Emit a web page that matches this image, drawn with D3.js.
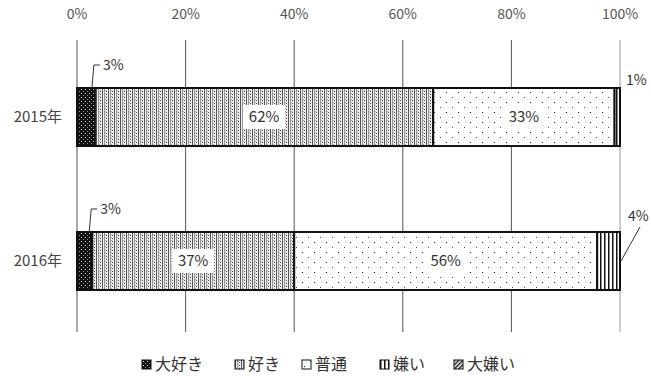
<!DOCTYPE html>
<html>
<head>
<meta charset="utf-8">
<script src="https://cdn.jsdelivr.net/npm/d3@7"></script>
<style>
  body { margin: 0; background: #fff; }
  text { font-family: "Noto Sans CJK JP", "Noto Sans", sans-serif; }
</style>
</head>
<body>
<div id="chart"></div>
<script>
// data
const years = ["2015年", "2016年"];
const seriesNames = ["大好き", "好き", "普通", "嫌い", "大嫌い"];
const v2015 = [3.3, 62.3, 33.4, 1.0, 0];
const v2016 = [2.8, 37.2, 55.8, 4.2, 0];
const ticks = [0, 20, 40, 60, 80, 100];

const width = 651, height = 376;
const margin = { left: 77, right: 31, top: 40, bottom: 44 };

const svg = d3.select("#chart")
  .append("svg")
    .attr("width", width)
    .attr("height", height);

/*    Patterns    */
const defs = svg.append("defs");

const pBig = defs.append("pattern").attr("id", "pBig")
  .attr("patternUnits", "userSpaceOnUse").attr("width", 4).attr("height", 4);
pBig.append("rect").attr("width", 4).attr("height", 4).attr("fill", "#111");
pBig.append("rect").attr("x", 1).attr("y", 1).attr("width", 1).attr("height", 1).attr("fill", "#ddd");
pBig.append("rect").attr("x", 3).attr("y", 3).attr("width", 1).attr("height", 1).attr("fill", "#999");

const pLike = defs.append("pattern").attr("id", "pLike")
  .attr("patternUnits", "userSpaceOnUse").attr("width", 6).attr("height", 3);
pLike.append("rect").attr("width", 6).attr("height", 3).attr("fill", "#eee");
pLike.append("rect").attr("x", 0).attr("width", 1).attr("height", 3).attr("fill", "#555");
pLike.append("rect").attr("x", 2).attr("width", 1).attr("height", 3).attr("fill", "#999");
pLike.append("rect").attr("x", 4).attr("y", 1).attr("width", 1).attr("height", 1).attr("fill", "#444");
pLike.append("rect").attr("x", 3).attr("y", 0).attr("width", 1).attr("height", 1).attr("fill", "#aaa");

const pNorm = defs.append("pattern").attr("id", "pNorm")
  .attr("patternUnits", "userSpaceOnUse").attr("width", 12).attr("height", 10);
pNorm.append("rect").attr("width", 12).attr("height", 10).attr("fill", "#fff");
pNorm.append("rect").attr("x", 2).attr("y", 2).attr("width", 1).attr("height", 1).attr("fill", "#222");
pNorm.append("rect").attr("x", 8).attr("y", 7).attr("width", 1).attr("height", 1).attr("fill", "#555");

const pDis = defs.append("pattern").attr("id", "pDis")
  .attr("patternUnits", "userSpaceOnUse").attr("width", 4).attr("height", 4);
pDis.append("rect").attr("width", 4).attr("height", 4).attr("fill", "#fff");
pDis.append("rect").attr("x", 0).attr("width", 1.5).attr("height", 4).attr("fill", "#111");

const pHate = defs.append("pattern").attr("id", "pHate")
  .attr("patternUnits", "userSpaceOnUse").attr("width", 3).attr("height", 3)
  .attr("patternTransform", "rotate(45)");
pHate.append("rect").attr("width", 3).attr("height", 3).attr("fill", "#fff");
pHate.append("rect").attr("width", 1.5).attr("height", 3).attr("fill", "#222");

const fills = ["url(#pBig)", "url(#pLike)", "url(#pNorm)", "url(#pDis)", "url(#pHate)"];

/*    Scales    */
const xScale = d3.scaleLinear().domain([0, 100]).range([margin.left, width - margin.right]);
const yScale = d3.scaleBand().domain(years).range([45, 333])
  .paddingInner(0.597).paddingOuter(0.2986);

// gridlines
svg.append("g")
  .selectAll("line")
  .data(ticks)
  .join("line")
    .attr("x1", d => xScale(d)).attr("x2", d => xScale(d))
    .attr("y1", margin.top).attr("y2", 332)
    .attr("stroke", d => d === 100 ? "#999" : "#555")
    .attr("stroke-width", 1);

// top axis labels
svg.append("g")
  .selectAll("text")
  .data(ticks)
  .join("text")
    .attr("x", d => xScale(d))
    .attr("y", 19)
    .attr("text-anchor", "middle")
    .attr("font-size", 14)
    .attr("fill", "#555")
    .text(d => d + "%");

// category labels
svg.append("g")
  .selectAll("text")
  .data(years)
  .join("text")
    .attr("x", 62)
    .attr("y", d => yScale(d) + yScale.bandwidth() / 2 + 5)
    .attr("text-anchor", "end")
    .attr("font-size", 15)
    .attr("fill", "#444")
    .text(d => d);

/*    Stacked bars    */
const rows = [v2015, v2016].map((vals, i) => {
  let acc = 0;
  return vals.map((v, j) => {
    const seg = { year: years[i], idx: j, x0: acc, x1: acc + v, v };
    acc += v;
    return seg;
  });
});

rows.forEach(row => {
  svg.append("g")
    .selectAll("rect")
    .data(row.filter(d => d.v > 0))
    .join("rect")
      .attr("x", d => xScale(d.x0))
      .attr("y", d => yScale(d.year))
      .attr("width", d => xScale(d.x1) - xScale(d.x0))
      .attr("height", yScale.bandwidth())
      .attr("fill", d => fills[d.idx])
      .attr("stroke", "#111")
      .attr("stroke-width", 2);
});

// value labels inside bars (with white box)
const inner = rows.flat().filter(d => d.idx === 1 || d.idx === 2);
const lab = svg.append("g")
  .selectAll("g")
  .data(inner)
  .join("g")
    .attr("transform", d => `translate(${xScale((d.x0 + d.x1) / 2)}, ${yScale(d.year) + yScale.bandwidth() / 2})`);
lab.append("rect")
  .attr("x", -21).attr("y", -12).attr("width", 42).attr("height", 24)
  .attr("fill", "#fff");
lab.append("text")
  .attr("text-anchor", "middle")
  .attr("y", 5)
  .attr("font-size", 15)
  .attr("fill", "#333")
  .text(d => Math.round(d.v) + "%");

// outside labels with leader lines
rows.forEach(row => {
  const first = row[0];
  const yTop = yScale(first.year);
  const xm = xScale(first.x1) - 3;
  svg.append("path")
    .attr("d", `M${xm},${yTop} L${xm + 2},${yTop - 23} L${xm + 8},${yTop - 23}`)
    .attr("fill", "none").attr("stroke", "#333").attr("stroke-width", 1);
  svg.append("text")
    .attr("x", xm + 11).attr("y", yTop - 18)
    .attr("font-size", 14).attr("fill", "#333")
    .text(Math.round(first.v) + "%");
});

// 2015 嫌い (1%)
const d15 = rows[0][3];
svg.append("text")
  .attr("x", xScale(100) + 6).attr("y", yScale(years[0]) - 3)
  .attr("font-size", 14).attr("fill", "#333")
  .text(Math.round(d15.v) + "%");

// 2016 嫌い (4%) with leader line
const d16 = rows[1][3];
const y16 = yScale(years[1]) + yScale.bandwidth() / 2;
svg.append("line")
  .attr("x1", xScale(100) + 1).attr("y1", y16)
  .attr("x2", xScale(100) + 20).attr("y2", y16 - 34)
  .attr("stroke", "#333").attr("stroke-width", 1);
svg.append("text")
  .attr("x", xScale(100) + 8).attr("y", y16 - 40)
  .attr("font-size", 14).attr("fill", "#333")
  .text(Math.round(d16.v) + "%");

/*    Legend    */
const legendX = [142, 235, 302, 380, 454];
const legend = svg.append("g")
  .selectAll("g")
  .data(seriesNames)
  .join("g")
    .attr("transform", (d, i) => `translate(${legendX[i]}, 364)`);
legend.append("rect")
  .attr("x", 0).attr("y", -4).attr("width", 9).attr("height", 9)
  .attr("fill", (d, i) => fills[i])
  .attr("stroke", "#111").attr("stroke-width", 1);
legend.append("text")
  .attr("x", 13).attr("y", 6)
  .attr("font-size", 16)
  .attr("fill", "#333")
  .text(d => d);
</script>
</body>
</html>
